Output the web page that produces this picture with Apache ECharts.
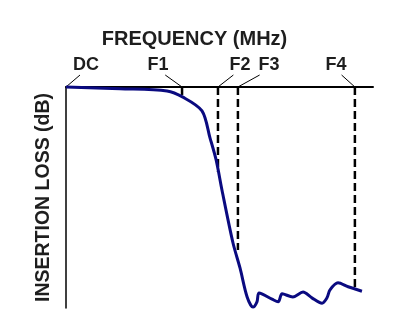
<!DOCTYPE html>
<html>
<head>
<meta charset="utf-8">
<script src="https://cdn.jsdelivr.net/npm/echarts@6/dist/echarts.min.js"></script>
<style>
  html, body { margin: 0; padding: 0; background: #fff; }
  #chart { width: 416px; height: 325px; }
</style>
</head>
<body>
<div id="chart"></div>
<script>
// Frequency markers along the top axis
const freqLabels = ['DC', 'F1', 'F2', 'F3', 'F4'];
const freqMarks = [0, 37.8, 49.5, 56.0, 94.1];
// How far each marker line drops (dB), down to the response curve
const markDepth = [0, -1.8, -19.2, -36.9, -45.9];

// Filter response: frequency (relative units) and insertion loss (dB)
const curveFreq = [0, 17.6, 32.9, 38.1, 44.3, 46.9, 48.9, 50.8, 54.4, 56.7, 59.0, 60.9, 62.2, 62.9, 67.1, 69.1, 70.4, 73.9, 77.2, 80.1, 83.4, 85.0, 86.0, 88.6, 91.9, 96.4];
const curveLoss = [0, -0.4, -0.9, -2.3, -5.4, -11.5, -16.5, -23.3, -35.3, -41.0, -47.5, -49.8, -48.6, -46.6, -48.0, -48.6, -46.8, -47.5, -46.4, -47.7, -48.9, -47.7, -45.9, -44.3, -45.2, -46.2];

// Horizontal offset (px) of each marker label from its marker line
const LABEL_SHIFT = [20, -24, 22, 31, -19];

const INK = '#1e1e1e';
const FONT = '"Liberation Sans", Arial, sans-serif';

const chart = echarts.init(document.getElementById('chart'), null, { renderer: 'canvas' });

chart.setOption({
  animation: false,
  backgroundColor: '#fff',
  grid: { left: 66, top: 87, width: 307, height: 221 },
  xAxis: {
    type: 'value',
    position: 'top',
    min: 0,
    max: 100,
    name: 'FREQUENCY (MHz)',
    nameLocation: 'middle',
    nameGap: 38,
    nameTextStyle: {
      fontFamily: FONT, fontWeight: 'bold', fontSize: 20, color: INK,
      // title sits left of the axis centre
      padding: [0, 50, 0, 0]
    },
    axisLine: { show: true, lineStyle: { color: '#000', width: 2 } },
    axisTick: { show: false },
    axisLabel: { show: false },
    splitLine: { show: false }
  },
  yAxis: {
    type: 'value',
    min: -50,
    max: 0,
    name: 'INSERTION LOSS (dB)',
    nameLocation: 'middle',
    nameGap: 12,
    nameTextStyle: { fontFamily: FONT, fontWeight: 'bold', fontSize: 19.5, color: INK },
    axisLine: { show: true, lineStyle: { color: '#000', width: 1.5 } },
    axisTick: { show: false },
    axisLabel: { show: false },
    splitLine: { show: false }
  },
  series: [
    {
      type: 'custom',
      clip: false,
      data: freqMarks.map((f, i) => [f, markDepth[i], i]),
      renderItem: function (params, api) {
        const f = api.value(0);
        const d = api.value(1);
        const i = api.value(2);
        const top = api.coord([f, 0]);
        const bot = api.coord([f, d]);
        const shift = LABEL_SHIFT[i];
        return {
          type: 'group',
          children: [
            {
              type: 'line',
              shape: { x1: top[0], y1: top[1], x2: bot[0], y2: bot[1] },
              style: { stroke: '#000', lineWidth: 2.5, lineDash: [8, 4] }
            },
            {
              type: 'line',
              shape: { x1: top[0], y1: top[1], x2: top[0] + shift * 0.7, y2: top[1] - 12 },
              style: { stroke: '#000', lineWidth: 1 }
            },
            {
              type: 'text',
              x: top[0] + shift,
              y: top[1] - 22,
              style: {
                text: freqLabels[i],
                fill: INK,
                font: 'bold 18px ' + FONT,
                align: 'center',
                verticalAlign: 'middle'
              }
            }
          ]
        };
      }
    },
    {
      type: 'line',
      data: curveFreq.map((f, i) => [f, curveLoss[i]]),
      showSymbol: false,
      smooth: 0.3,
      clip: false,
      lineStyle: { color: '#0a0a80', width: 3 },
      z: 3
    }
  ]
});
</script>
</body>
</html>
